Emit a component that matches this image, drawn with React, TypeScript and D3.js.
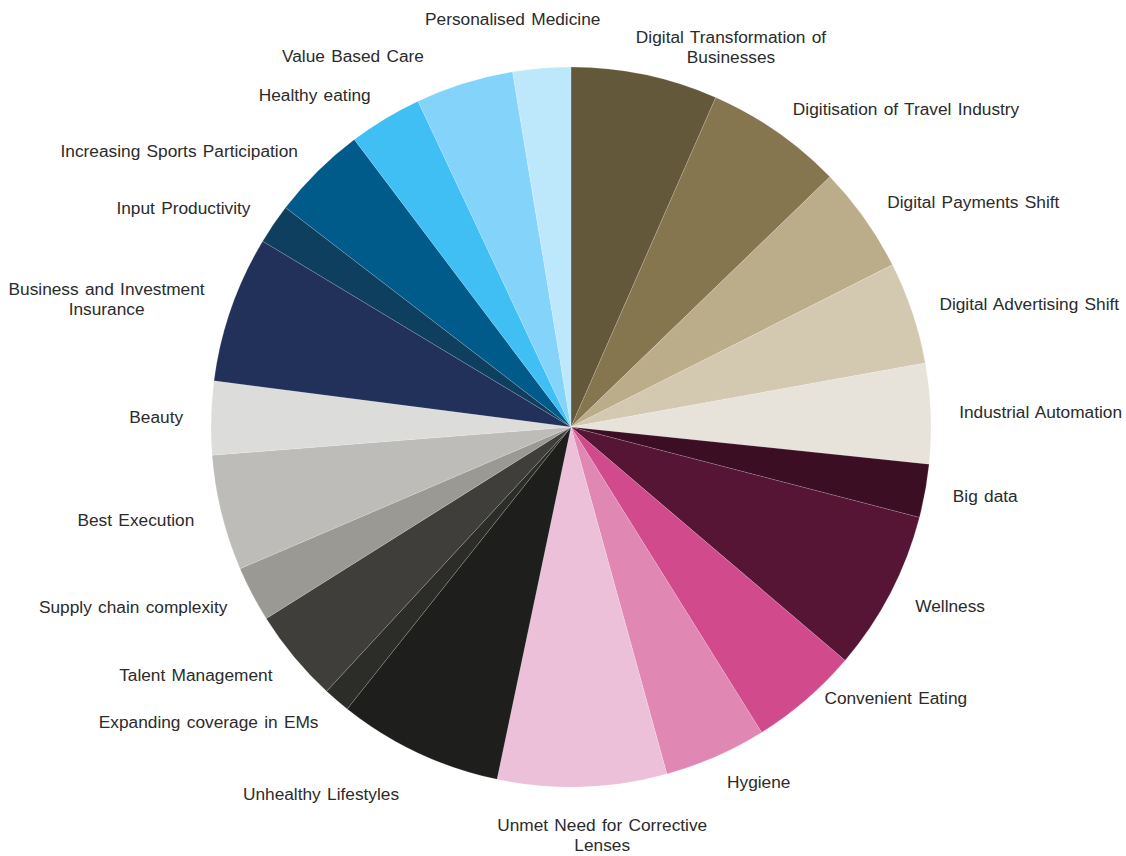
import React, { useMemo } from "react";
import * as d3 from "d3";

// ---- data (clockwise from 12 o'clock) ----
const categories: string[] = [
  "Digital Transformation of\nBusinesses",
  "Digitisation of Travel Industry",
  "Digital Payments Shift",
  "Digital Advertising Shift",
  "Industrial Automation",
  "Big data",
  "Wellness",
  "Convenient Eating",
  "Hygiene",
  "Unmet Need for Corrective\nLenses",
  "Unhealthy Lifestyles",
  "Expanding coverage in EMs",
  "Talent Management",
  "Supply chain complexity",
  "Best Execution",
  "Beauty",
  "Business and Investment\nInsurance",
  "Input Productivity",
  "Increasing Sports Participation",
  "Healthy eating",
  "Value Based Care",
  "Personalised Medicine",
];

const values: number[] = [
  6.6, 6.2, 4.8, 4.6, 4.5, 2.4, 7.2, 4.9, 4.6, 7.6, 7.4, 1.2, 4.2, 2.5, 5.2,
  3.3, 6.6, 1.8, 4.3, 3.3, 4.4, 2.6,
];

const colors: string[] = [
  "#635839", "#85764f", "#bcad8a", "#d3c9b1", "#e7e3da",
  "#3c0e23", "#561535", "#d04a8c", "#e087b3", "#ecc0d8",
  "#1e1e1c", "#2c2c29", "#3f3e3a", "#9a9994", "#bdbcb8", "#dcdcdb",
  "#213159", "#0e3f5e", "#005b8a", "#40bff5", "#83d3fa", "#bde8fb",
];

// ---- layout ----
const W = 1126;
const H = 856;
const CX = 571;
const CY = 427;
const RADIUS = 360;
const LABEL_R = 388;
const FONT_SIZE = 17.3;
const WORD_SP = 1.5;
const LINE_H = 20;
const FONT_FAMILY = '"Liberation Sans", Arial, sans-serif';
const FONT = `${FONT_SIZE}px ${FONT_FAMILY}`;

// label placement nudges (collision avoidance, like the original)
const labelNudge: Record<number, [number, number]> = {
  0: [-15, 0],
  7: [0, -23],
  9: [-86, 20],
  10: [-7, 16],
  20: [-32, 0],
  21: [61, -21],
};

function measure(text: string): number {
  const c = document.createElement("canvas").getContext("2d");
  const spaces = (text.match(/ /g) || []).length;
  if (!c) return text.length * 8;
  c.font = FONT;
  return c.measureText(text).width + spaces * WORD_SP;
}

export default function App() {
  const pie = d3
    .pie<number>()
    .sort(null)
    .value((d) => d);
  const arcs = pie(values);
  const arc = d3.arc<d3.PieArcDatum<number>>().innerRadius(0).outerRadius(RADIUS);

  const labels = useMemo(
    () =>
      arcs.map((a, i) => {
        const mid = (a.startAngle + a.endAngle) / 2;
        const s = Math.sin(mid);
        const c = Math.cos(mid);
        const px = CX + LABEL_R * s;
        const py = CY - LABEL_R * c;
        const lines = categories[i].split("\n");
        const w = Math.max(...lines.map(measure));
        const n = labelNudge[i] || [0, 0];
        const bx = (s >= 0 ? px + w / 2 : px - w / 2) + n[0];
        const by = py + n[1];
        return { lines, bx, by };
      }),
    []
  );

  return (
    <svg
      width={W}
      height={H}
      style={{ position: "absolute", left: 0, top: 0, background: "#fff" }}
    >
      <g transform={`translate(${CX},${CY})`}>
        {arcs.map((a, i) => (
          <path
            key={i}
            d={arc(a) || ""}
            fill={colors[i]}
            stroke="#ffffff"
            strokeOpacity={0.25}
            strokeWidth={0.6}
          />
        ))}
      </g>
      {labels.map((l, i) => (
        <text
          key={i}
          x={l.bx}
          y={l.by - ((l.lines.length - 1) * LINE_H) / 2}
          textAnchor="middle"
          dominantBaseline="central"
          fontFamily={FONT_FAMILY}
          fontSize={FONT_SIZE}
          wordSpacing={WORD_SP}
          fill="#2b2b2b"
        >
          {l.lines.map((t, j) => (
            <tspan key={j} x={l.bx} dy={j === 0 ? 0 : LINE_H}>
              {t}
            </tspan>
          ))}
        </text>
      ))}
    </svg>
  );
}
